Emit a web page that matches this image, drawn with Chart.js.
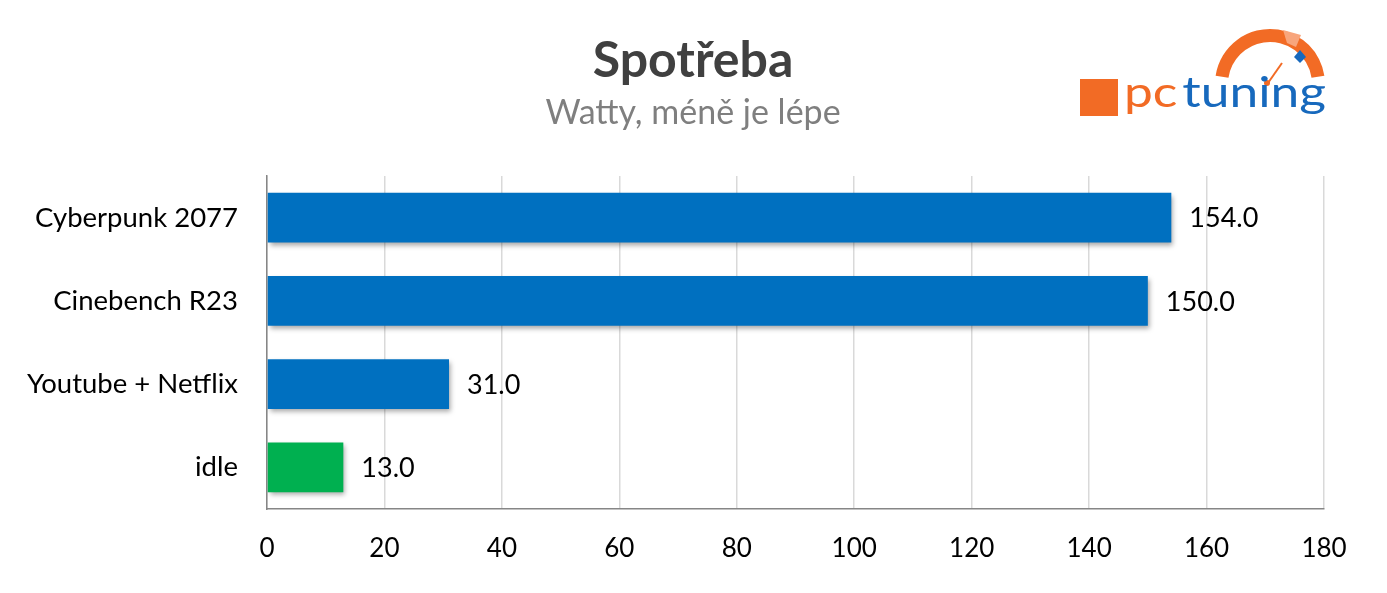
<!DOCTYPE html>
<html><head><meta charset="utf-8">
<script src="https://cdn.jsdelivr.net/npm/chart.js@4.4.1/dist/chart.umd.min.js"></script>
<style>html,body{margin:0;padding:0;background:#fff}#wrap{width:1387px;height:593px;position:relative}</style>
</head><body><div id="wrap"><canvas id="c" width="1387" height="593"></canvas></div>
<script>
const categories = ["Cyberpunk 2077", "Cinebench R23", "Youtube + Netflix", "idle"];
const values = [154.0, 150.0, 31.0, 13.0];
const barColors = ["#0070C0", "#0070C0", "#0070C0", "#00B050"];
const xMin = 0, xMax = 180, xStep = 20;
const titleText = "Spotřeba";
const subtitleText = "Watty, méně je lépe";
const logoLeft = "pc", logoRight = "tuning";

const FONT = "Lato, 'Open Sans', sans-serif";

const shadowPlugin = {
  id: 'shadow',
  beforeDatasetDraw(chart) {
    const ctx = chart.ctx; ctx.save();
    ctx.shadowColor = 'rgba(0,0,0,0.35)'; ctx.shadowBlur = 5; ctx.shadowOffsetX = 2; ctx.shadowOffsetY = 3;
  },
  afterDatasetDraw(chart) { chart.ctx.restore(); }
};

const valueLabels = {
  id: 'valueLabels',
  afterDatasetsDraw(chart) {
    const ctx = chart.ctx; const meta = chart.getDatasetMeta(0);
    ctx.save(); ctx.font = "27px " + FONT; ctx.fillStyle = "#000"; ctx.textAlign = "left"; ctx.textBaseline = "middle";
    meta.data.forEach((bar, i) => { ctx.fillText(values[i].toFixed(1), bar.x + 18, bar.y + 1); });
    ctx.restore();
  }
};

const headerPlugin = {
  id: 'header',
  afterDraw(chart) {
    const ctx = chart.ctx; ctx.save();
    ctx.textAlign = "center"; ctx.textBaseline = "middle";
    ctx.fillStyle = "#404040"; ctx.font = "bold 50px " + FONT; ctx.fillText(titleText, 693, 61);
    ctx.fillStyle = "#7f7f7f"; ctx.font = "34px " + FONT; ctx.fillText(subtitleText, 693, 113);
    // logo
    const orange = "#F26B25", blue = "#1769BD";
    ctx.fillStyle = orange; ctx.fillRect(1080, 79, 38, 37);
    // arc
    const a0 = Math.PI + 0.15, a1 = 2 * Math.PI - 0.15;
    ctx.beginPath(); ctx.arc(1270, 84, 55, a0, a1); ctx.arc(1270, 84, 42, a1, a0, true); ctx.closePath();
    ctx.fillStyle = orange; ctx.fill();
    // notch
    ctx.fillStyle = "#F8A57C"; ctx.beginPath(); ctx.moveTo(1283, 30); ctx.lineTo(1287, 43); ctx.lineTo(1296, 47); ctx.lineTo(1301, 35); ctx.closePath(); ctx.fill();
    // diamond
    ctx.fillStyle = blue; ctx.beginPath(); ctx.moveTo(1300, 50); ctx.lineTo(1306, 57); ctx.lineTo(1300, 63); ctx.lineTo(1294, 57); ctx.closePath(); ctx.fill();
    // needle
    ctx.strokeStyle = orange; ctx.lineWidth = 2; ctx.beginPath(); ctx.moveTo(1282, 63); ctx.lineTo(1268, 83); ctx.stroke();
    ctx.fillStyle = orange;
    ctx.beginPath(); ctx.arc(1267, 83, 3, 0, 2 * Math.PI); ctx.fill();
    // text
    ctx.textAlign = "left"; ctx.textBaseline = "alphabetic";
    ctx.font = "42px " + FONT;
    const wL = ctx.measureText(logoLeft).width, wR = ctx.measureText(logoRight).width;
    const sx = 202 / (wL + wR + 4);
    ctx.save(); ctx.translate(1124, 107); ctx.scale(sx, 1);
    ctx.fillStyle = orange; ctx.fillText(logoLeft, 0, 0);
    ctx.fillStyle = blue; ctx.fillText(logoRight, wL + 4, 0);
    ctx.restore();
    ctx.restore();
  }
};

new Chart(document.getElementById('c'), {
  type: 'bar',
  data: { labels: categories, datasets: [{ data: values, backgroundColor: barColors, barPercentage: 0.6, categoryPercentage: 1.0 }] },
  options: {
    indexAxis: 'y', responsive: false, animation: false, devicePixelRatio: 1,
    layout: { padding: { top: 176, right: 63, bottom: 0, left: 0 } },
    plugins: { legend: { display: false }, tooltip: { enabled: false }, title: { display: false } },
    scales: {
      x: {
        min: xMin, max: xMax,
        ticks: { stepSize: xStep, color: "#000", font: { family: FONT, size: 26 }, padding: 24 },
        grid: { color: "#D9D9D9", lineWidth: 1.5, drawTicks: false },
        border: { color: "#868686", width: 1.5 },
        afterFit(s) { s.height = 84; }
      },
      y: {
        ticks: { color: "#000", font: { family: FONT, size: 27.5 }, padding: 29 },
        grid: { display: false, drawTicks: false },
        border: { color: "#868686", width: 1.5 },
        afterFit(s) { s.width = 267; }
      }
    }
  },
  plugins: [shadowPlugin, valueLabels, headerPlugin]
});
</script></body></html>
